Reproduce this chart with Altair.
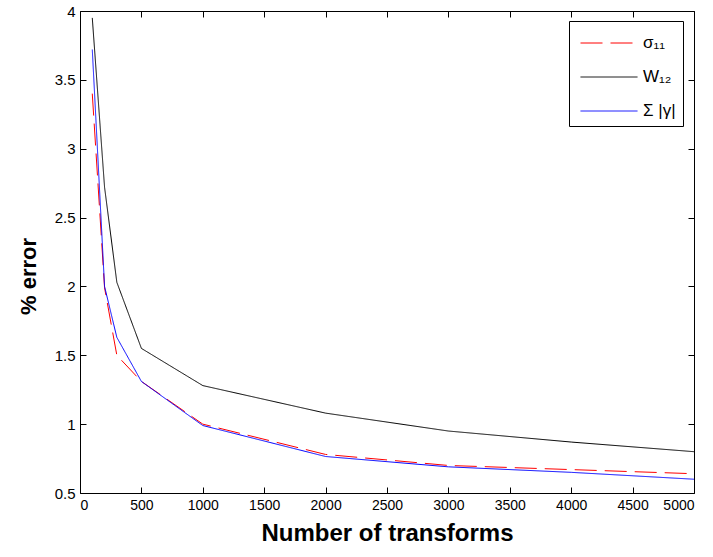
import altair as alt
import pandas as pd

# ---- data ----
transforms = [100, 200, 300, 500, 1000, 2000, 3000, 4000, 5000]
sigma11 = [3.40, 1.99, 1.50, 1.31, 1.00, 0.78, 0.70, 0.67, 0.64]
w12 = [3.95, 2.72, 2.03, 1.55, 1.28, 1.08, 0.95, 0.87, 0.80]
sum_gamma = [3.72, 2.00, 1.63, 1.31, 0.99, 0.765, 0.69, 0.65, 0.60]

series_names = ["σ₁₁", "W₁₂", "Σ |γ|"]
series_colors = ["#ff0000", "#000000", "#0000ff"]
series_dash = [[22, 8], [1, 0], [1, 0]]

x_ticks = [0, 500, 1000, 1500, 2000, 2500, 3000, 3500, 4000, 4500, 5000]
y_ticks = [0.5, 1, 1.5, 2, 2.5, 3, 3.5, 4]

W, H = 614, 482
FONT = "Liberation Sans"
TL = 6  # inner tick length in px

rows = []
for name, vals in zip(series_names, [sigma11, w12, sum_gamma]):
    for x, v in zip(transforms, vals):
        rows.append({"n": x, "err": v, "series": name})
df = pd.DataFrame(rows)

xscale = alt.Scale(domain=[0, 5000], nice=False, zero=False)
yscale = alt.Scale(domain=[0.5, 4], nice=False, zero=False)

legend_kw = dict(title=None, orient="none", legendX=489, legendY=10,
                 symbolType="M-2,0H2", symbolSize=812, symbolStrokeWidth=1,
                 symbolOffset=18, labelFont=FONT, labelFontSize=17, labelColor="#000",
                 labelOffset=19, strokeColor="#000", fillColor="#fff",
                 padding=7, rowPadding=11)

tick_axis = dict(domain=False, grid=False, ticks=True, tickSize=TL, tickColor="#000",
                 tickWidth=1, tickOpacity=1, offset=-TL, zindex=1)

lines = alt.Chart(df).mark_line(strokeWidth=1, clip=True).encode(
    x=alt.X("n:Q", scale=xscale, title="Number of transforms",
            axis=alt.Axis(values=x_ticks, format="d", orient="bottom",
                          labelFont=FONT, labelFontSize=14, labelColor="#000",
                          labelPadding=5, titleFont=FONT, titleFontSize=24,
                          titleFontWeight="bold", titleColor="#000", titlePadding=9,
                          **tick_axis)),
    y=alt.Y("err:Q", scale=yscale, title="% error",
            axis=alt.Axis(values=y_ticks, format="~r", orient="left",
                          labelFont=FONT, labelFontSize=15, labelColor="#000",
                          labelPadding=5, titleFont=FONT, titleFontSize=22,
                          titleFontWeight="bold", titleColor="#000", titlePadding=14,
                          titleY=265, **tick_axis)),
    color=alt.Color("series:N",
                    scale=alt.Scale(domain=series_names, range=series_colors),
                    legend=alt.Legend(**legend_kw)),
    strokeDash=alt.StrokeDash("series:N",
                              scale=alt.Scale(domain=series_names, range=series_dash),
                              legend=alt.Legend(**legend_kw)),
    order=alt.Order("n:Q"),
)

frame_axes = alt.Chart(df).mark_point(opacity=0).encode(
    x=alt.X("n:Q", scale=xscale, title=None,
            axis=alt.Axis(values=x_ticks, orient="top", labels=False, **tick_axis)),
    y=alt.Y("err:Q", scale=yscale, title=None,
            axis=alt.Axis(values=y_ticks, orient="right", labels=False, **tick_axis)),
)

chart = alt.layer(lines, frame_axes).resolve_axis(
    x="independent", y="independent"
).properties(
    width=W, height=H,
    autosize=alt.AutoSizeParams(type="none"),
    padding={"left": 80, "top": 11, "right": 19, "bottom": 64},
    background="#ffffff",
).configure_view(stroke="#000", strokeWidth=1)

chart.save("out.html", embed_options={"renderer": "svg", "actions": False})
